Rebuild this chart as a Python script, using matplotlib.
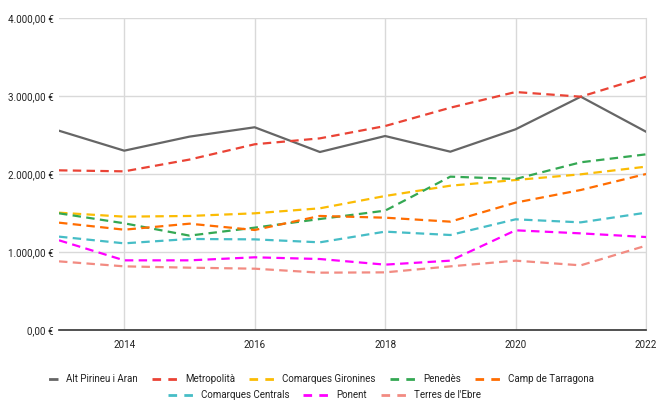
import matplotlib
matplotlib.use('Agg')
import matplotlib.pyplot as plt
from matplotlib.ticker import FuncFormatter
from matplotlib.lines import Line2D

plt.rcParams['font.family'] = ['Roboto', 'DejaVu Sans']

years = [2013, 2014, 2015, 2016, 2017, 2018, 2019, 2020, 2021, 2022]

alt_pirineu = [2555, 2299, 2479, 2599, 2282, 2487, 2286, 2573, 2991, 2542]
metropolita = [2047, 2034, 2185, 2381, 2457, 2615, 2850, 3051, 2991, 3248]
gironines = [1504, 1453, 1462, 1496, 1560, 1718, 1850, 1923, 1996, 2094]
penedes = [1496, 1368, 1210, 1312, 1423, 1530, 1966, 1936, 2150, 2252]
tarragona = [1376, 1286, 1363, 1282, 1462, 1440, 1389, 1633, 1795, 2000]
centrals = [1197, 1111, 1167, 1162, 1124, 1261, 1218, 1419, 1380, 1504]
ponent = [1150, 893, 893, 932, 910, 838, 889, 1278, 1239, 1192]
ebre = [880, 816, 799, 786, 735, 739, 816, 889, 829, 1081]

names = ['Alt Pirineu i Aran', 'Metropolità', 'Comarques Gironines', 'Penedès',
         'Camp de Tarragona', 'Comarques Centrals', 'Ponent', "Terres de l'Ebre"]
series = [alt_pirineu, metropolita, gironines, penedes, tarragona, centrals, ponent, ebre]
colors = ['#666666', '#ea4335', '#fbbc04', '#34a853', '#ff6d01', '#46bdc6', '#ff00ff', '#f28b82']

fig = plt.figure(figsize=(6.57, 4.03), dpi=100)
ax = fig.add_axes([59/657, 1 - 330/403, (646-59)/657, (330-18)/403])

# legend handles: one short bar (right end) for the solid series, two bars for dashed
solid_h = (3.4, (3.4, 5.6))
dash_h = (0, (3.1, 2.6))

handles = []
for i, (name, vals, c) in enumerate(zip(names, series, colors)):
    ls = '-' if i == 0 else (0, (3.8, 2.4))
    ax.plot(years, vals, color=c, lw=1.6, linestyle=ls, label=name, zorder=3)
    handles.append(Line2D([], [], color=c, lw=2, solid_capstyle='butt', dash_capstyle='butt',
                          linestyle=solid_h if i == 0 else dash_h, label=name))

ax.set_xlim(2013, 2022)
ax.set_ylim(0, 4000)
ax.set_xticks([2014, 2016, 2018, 2020, 2022])
ax.set_yticks([0, 1000, 2000, 3000, 4000])

def eur(v, pos):
    s = f'{v:,.2f}'.replace(',', 'X').replace('.', ',').replace('X', '.')
    return s + ' €'

ax.yaxis.set_major_formatter(FuncFormatter(eur))
ax.grid(True, color='#d9d9d9', lw=1)
ax.set_axisbelow(True)
for s in ['top', 'left']:
    ax.spines[s].set_visible(False)
ax.spines['right'].set_color('#d9d9d9')
ax.spines['bottom'].set_color('#333333')
ax.spines['bottom'].set_linewidth(1.2)
ax.tick_params(length=0, labelsize=7.1, colors='#222222', pad=7)
ax.tick_params(axis='y', pad=4)

kw = dict(loc='center', frameon=False, fontsize=7.0, handlelength=2.6,
          columnspacing=1.45, handletextpad=0.8, labelcolor='#222222')
fig.legend(handles=handles[:5], bbox_to_anchor=(0.5 - 15/657, 1 - 379/403), ncol=5, **kw)
fig.legend(handles=handles[5:], bbox_to_anchor=(0.5 - 4/657, 1 - 395/403), ncol=3, **kw)

fig.savefig('out.png', dpi=100)
